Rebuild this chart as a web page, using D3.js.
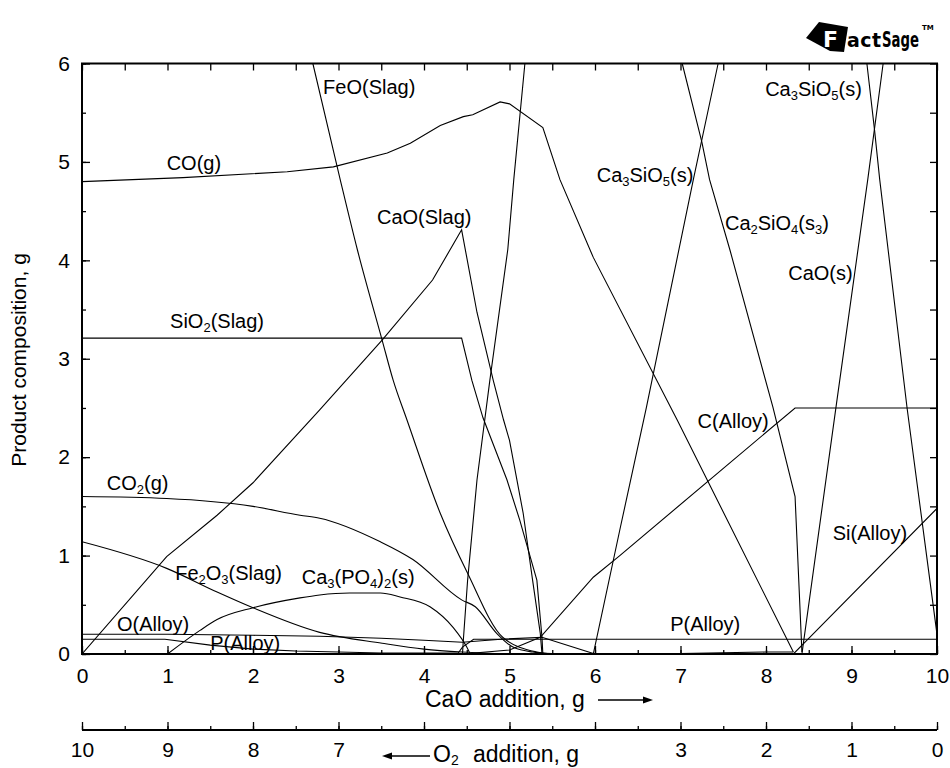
<!doctype html>
<html lang="en">
<head>
  <meta charset="utf-8">
  <title>Product composition vs CaO addition</title>
  <style>
   body {
       margin: 0;
       background-color: #ffffff;
       font-family: "Liberation Sans", Arial, Helvetica, sans-serif;
   }
   .curve {
       fill: none;
       stroke: #000;
       stroke-width: 1.1;
   }
   .lbl {
       font-size: 20px;
       fill: #000;
   }
  </style>
</head>
<body>
  <svg id="chart" width="950" height="768" xmlns="http://www.w3.org/2000/svg"></svg>
  <script src="https://d3js.org/d3.v7.min.js"></script>
  <script>

   // values, [CaO g, product g]
   var coGas = [[0,4.80],[1.18,4.84],[2.4,4.90],[2.94,4.95],[3.57,5.09],[3.84,5.19],[4.19,5.37],[4.46,5.46],[4.57,5.48],[4.89,5.61],[5.0,5.59],[5.39,5.35],[5.59,4.82],[5.98,4.03],[6.96,2.38],[8.32,0.02]];
   var co2Gas = [[0,1.60],[0.99,1.58],[2.0,1.50],[2.55,1.41],[2.78,1.38],[3.49,1.14],[3.87,0.96],[4.44,0.55],[4.60,0.48],[4.85,0.21],[5.04,0.07],[5.27,0.02],[5.6,0.0]];
   var feoSlag = [[2.70,6.0],[3.02,4.82],[3.22,4.11],[3.51,3.19],[3.64,2.78],[3.80,2.38],[4.19,1.43],[4.51,0.82],[4.92,0.17],[5.32,0.02],[5.5,0.0]];
   var caoSlag = [[0,0],[0.99,0.99],[1.58,1.41],[2.0,1.74],[2.78,2.48],[3.51,3.19],[4.1,3.80],[4.44,4.31],[4.62,3.47],[4.81,2.78],[4.93,2.38],[5.0,2.17],[5.16,1.43],[5.27,0.75],[5.36,0.21],[5.38,0.0]];
   var sio2Slag = [[0,3.21],[4.44,3.21],[4.56,2.78],[4.69,2.40],[4.97,1.77],[5.12,1.36],[5.32,0.75],[5.38,0.17],[5.39,0.0]];
   var fe2o3Slag = [[0,1.14],[0.99,0.87],[1.58,0.63],[2.0,0.47],[2.78,0.22],[3.51,0.11],[4.0,0.05],[4.45,0.02],[5.0,0.0]];
   var ca3po42 = [[1.0,0],[1.38,0.24],[1.58,0.35],[2.0,0.47],[2.55,0.57],[2.78,0.60],[3.13,0.62],[3.49,0.62],[3.72,0.58],[4.07,0.48],[4.34,0.27],[4.50,0.07],[4.54,0.0]];
   var oAlloy = [[0,0.20],[1.0,0.20],[2.0,0.19],[2.78,0.18],[3.5,0.16],[4.0,0.14],[4.45,0.12],[4.9,0.15],[5.38,0.17],[6.0,0.0],[7.0,0.005],[8.0,0.02],[8.32,0.02]];
   var pAlloy = [[0,0.15],[0.97,0.15],[1.5,0.09],[2.0,0.05],[2.5,0.03],[3.5,0.01],[4.40,0.01],[4.45,0.07],[4.58,0.15],[10,0.15]];
   var cAlloy = [[4.45,0.0],[5.0,0.04],[5.36,0.17],[5.98,0.78],[6.29,1.0],[8.34,2.5],[10,2.5]];
   var siAlloy = [[8.32,0.0],[8.48,0.14],[10,1.48]];
   var silicateA = [[4.45,0],[4.46,0.14],[4.51,0.75],[4.62,1.77],[4.77,2.78],[4.98,4.11],[5.05,4.82],[5.18,6.0]];
   var ca3sio5Rise = [[5.98,0],[6.29,1.26],[6.6,2.5],[7.15,4.82],[7.44,6.0]];
   var ca2sio4 = [[7.02,6.0],[7.25,5.2],[7.34,4.82],[7.58,4.1],[8.08,2.51],[8.34,1.60],[8.42,0.02]];
   var caoSolid = [[8.42,0],[8.83,2.58],[9.19,4.82],[9.37,6.0]];
   var ca3sio5Fall = [[9.18,6.0],[9.27,5.32],[9.33,4.82],[9.65,2.5],[10,0.2]];

   // curves drawn straight between points, and the smooth ones
   var straightCurves = [coGas, caoSlag, sio2Slag, oAlloy, pAlloy, cAlloy, siAlloy,
			 silicateA, ca3sio5Rise, ca2sio4, caoSolid, ca3sio5Fall];
   var smoothCurves = [co2Gas, feoSlag, fe2o3Slag, ca3po42];

   var yTicks = [0,1,2,3,4,5,6];
   var caoTicks = [0,1,2,3,4,5,6,7,8,9,10];
   var o2TickLabels = ["10","9","8","7","","","","3","2","1","0"];

   // curve labels: [text parts, x, y] ; parts with "_" are subscripts
   var labels = [
       [["CO(g)"], 0.99, 4.92],
       [["FeO(Slag)"], 2.82, 5.69],
       [["CaO(Slag)"], 3.45, 4.37],
       [["Ca","_3","SiO","_5","(s)"], 6.02, 4.80],
       [["Ca","_3","SiO","_5","(s)"], 7.99, 5.67],
       [["Ca","_2","SiO","_4","(s","_3",")"], 7.52, 4.31],
       [["CaO(s)"], 8.26, 3.80],
       [["SiO","_2","(Slag)"], 1.03, 3.31],
       [["C(Alloy)"], 7.20, 2.30],
       [["Si(Alloy)"], 8.78, 1.16],
       [["CO","_2","(g)"], 0.29, 1.67],
       [["Fe","_2","O","_3","(Slag)"], 1.09, 0.75],
       [["Ca","_3","(PO","_4",")","_2","(s)"], 2.57, 0.71],
       [["O(Alloy)"], 0.41, 0.23],
       [["P(Alloy)"], 1.50, 0.04],
       [["P(Alloy)"], 6.88, 0.23]
   ];

   var svg = d3.select("#chart");
   var plotL = 82, plotR = 937, plotT = 63.5, plotB = 654;

   var x = d3.scaleLinear().domain([0,10]).range([plotL, plotR]);
   var y = d3.scaleLinear().domain([0,6]).range([plotB, plotT]);

   var halfX = d3.range(0, 10.01, 0.5);
   var halfY = d3.range(0, 6.01, 0.5);

   svg.append("defs").append("clipPath").attr("id", "plotclip")
      .append("rect")
      .attr("x", plotL).attr("y", plotT)
      .attr("width", plotR - plotL).attr("height", plotB - plotT);

   function styleAxis(g) {
       g.select(".domain").remove();
       g.selectAll(".tick line").attr("stroke", "#000").attr("stroke-width", 1.3);
       g.selectAll("text")
	.attr("fill", "#000")
	.style("font-family", "'Liberation Sans', Arial, sans-serif")
	.style("font-size", "21px");
   }

   // inward ticks on all four sides
   svg.append("g").attr("transform", "translate(0," + plotB + ")")
      .call(d3.axisBottom(x).tickValues(halfX).tickSize(-4).tickFormat(""))
      .call(styleAxis);
   svg.append("g").attr("transform", "translate(0," + plotB + ")")
      .call(d3.axisBottom(x).tickValues(caoTicks).tickSize(-8).tickPadding(14).tickFormat(d3.format("d")))
      .call(styleAxis);
   svg.append("g").attr("transform", "translate(0," + plotT + ")")
      .call(d3.axisTop(x).tickValues(halfX).tickSize(-7).tickFormat(""))
      .call(styleAxis);
   svg.append("g").attr("transform", "translate(" + plotL + ",0)")
      .call(d3.axisLeft(y).tickValues(halfY).tickSize(-4).tickFormat(""))
      .call(styleAxis);
   svg.append("g").attr("transform", "translate(" + plotL + ",0)")
      .call(d3.axisLeft(y).tickValues(yTicks).tickSize(-8).tickPadding(12).tickFormat(d3.format("d")))
      .call(styleAxis);
   svg.append("g").attr("transform", "translate(" + plotR + ",0)")
      .call(d3.axisRight(y).tickValues(halfY).tickSize(-7).tickFormat(""))
      .call(styleAxis);

   svg.append("rect")
      .attr("x", plotL).attr("y", plotT)
      .attr("width", plotR - plotL).attr("height", plotB - plotT)
      .attr("fill", "none").attr("stroke", "#000").attr("stroke-width", 2);

   // second scale: O2 addition, reading backwards
   var o2Y = 730;
   svg.append("g").attr("transform", "translate(0," + o2Y + ")")
      .call(d3.axisBottom(x).tickValues(halfX).tickSize(-4).tickFormat(""))
      .call(styleAxis);
   svg.append("g").attr("transform", "translate(0," + o2Y + ")")
      .call(d3.axisBottom(x).tickValues(caoTicks).tickSize(-8).tickPadding(12)
		.tickFormat(function(d, i) { return o2TickLabels[i]; }))
      .call(styleAxis);
   svg.append("line")
      .attr("x1", plotL).attr("x2", plotR).attr("y1", o2Y).attr("y2", o2Y)
      .attr("stroke", "#000").attr("stroke-width", 2);

   var line = d3.line()
		.x(function(d) { return x(d[0]); })
		.y(function(d) { return y(d[1]); });
   var smoothLine = d3.line()
		      .curve(d3.curveMonotoneX)
		      .x(function(d) { return x(d[0]); })
		      .y(function(d) { return y(d[1]); });

   var curves = svg.append("g").attr("clip-path", "url(#plotclip)");
   curves.selectAll("path.straight")
	 .data(straightCurves)
	 .enter()
	 .append("path")
	 .attr("class", "curve straight")
	 .attr("d", line);
   curves.selectAll("path.smooth")
	 .data(smoothCurves)
	 .enter()
	 .append("path")
	 .attr("class", "curve smooth")
	 .attr("d", smoothLine);

   function addRich(sel, parts) {
       parts.forEach(function(p, i) {
	   var sub = p.charAt(0) == "_";
	   var prevSub = i > 0 && parts[i-1].charAt(0) == "_";
	   var t = sel.append("tspan").text(sub ? p.slice(1) : p);
	   if (sub) {
	       t.attr("font-size", "13px").attr("dy", 4);
	   } else if (prevSub) {
	       t.attr("dy", -4);
	   }
       });
   }

   labels.forEach(function(l) {
       var t = svg.append("text")
		  .attr("class", "lbl")
		  .attr("x", x(l[1]))
		  .attr("y", y(l[2]));
       addRich(t, l[0]);
   });

   // axis titles
   svg.append("text")
      .attr("class", "lbl")
      .attr("transform", "translate(26,360) rotate(-90)")
      .attr("text-anchor", "middle")
      .style("font-size", "21px")
      .text("Product composition, g");

   svg.append("text")
      .attr("class", "lbl")
      .attr("x", 425).attr("y", 707)
      .style("font-size", "23px")
      .text("CaO addition, g");
   svg.append("line")
      .attr("x1", 598).attr("x2", 646).attr("y1", 700).attr("y2", 700)
      .attr("stroke", "#000").attr("stroke-width", 1.5);
   svg.append("path")
      .attr("d", "M653,700 L643,696.5 L643,703.5 Z")
      .attr("fill", "#000");

   var o2Title = svg.append("text")
		    .attr("class", "lbl")
		    .attr("x", 433).attr("y", 762)
		    .style("font-size", "23px");
   o2Title.append("tspan").text("O");
   o2Title.append("tspan").attr("font-size", "14px").attr("dy", 3).text("2");
   svg.append("text")
      .attr("class", "lbl")
      .attr("x", 473).attr("y", 762)
      .style("font-size", "23px")
      .text("addition, g");
   svg.append("line")
      .attr("x1", 389).attr("x2", 430).attr("y1", 756).attr("y2", 756)
      .attr("stroke", "#000").attr("stroke-width", 1.5);
   svg.append("path")
      .attr("d", "M382,756 L392,752.5 L392,759.5 Z")
      .attr("fill", "#000");

   // logo
   var logo = svg.append("g");
   logo.append("path")
       .attr("d", "M806,38 L819,22 L848,27 L844,52 L830,51 Z")
       .attr("fill", "#000");
   logo.append("text")
       .attr("x", 823).attr("y", 47)
       .attr("fill", "#fff")
       .style("font-family", "'DejaVu Sans', sans-serif")
       .style("font-weight", "bold")
       .style("font-size", "22px")
       .text("F");
   var brand = logo.append("text")
		   .attr("x", 847).attr("y", 47)
		   .style("font-family", "'DejaVu Sans', sans-serif")
		   .style("font-weight", "bold");
   brand.append("tspan")
	.attr("textLength", 34)
	.style("font-size", "19px")
	.text("act");
   brand.append("tspan")
	.attr("x", 882)
	.attr("textLength", 37)
	.attr("lengthAdjust", "spacingAndGlyphs")
	.style("font-size", "21px")
	.text("Sage");
   brand.append("tspan")
	.attr("dx", 3).attr("dy", -17)
	.style("font-size", "7px")
	.text("TM");
  </script>
</body>
</html>
